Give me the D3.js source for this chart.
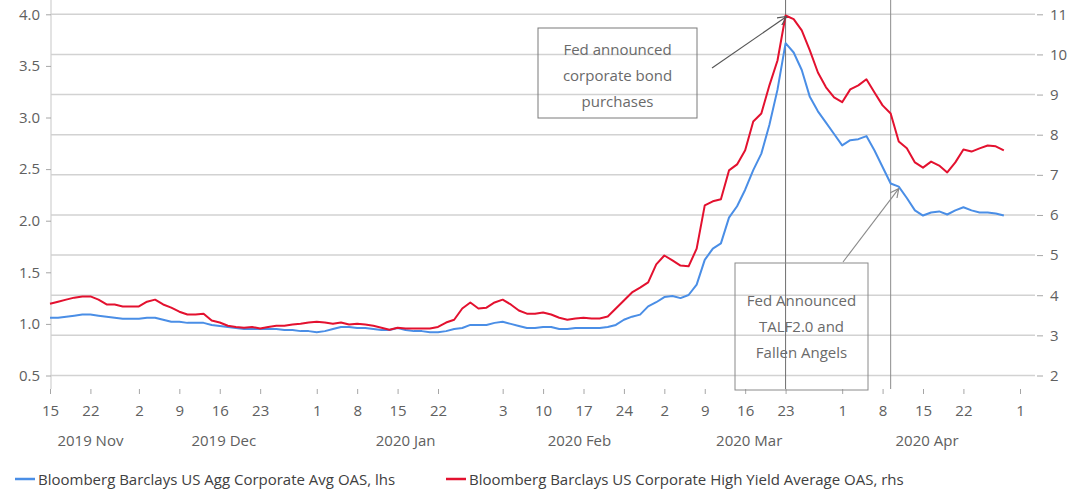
<!DOCTYPE html>
<html>
<head>
<meta charset="utf-8">
<script src="https://cdnjs.cloudflare.com/ajax/libs/d3/7.8.5/d3.min.js"></script>
<style>
  body { margin: 0; background: #fff; }
  svg { font-family: "Open Sans", sans-serif; }
</style>
</head>
<body>
<svg id="chart" width="1083" height="493"></svg>
<script>
// the x axis runs over weekdays only
var startDate = new Date(2019, 10, 15);
var endDate = new Date(2020, 4, 1);

// Bloomberg Barclays US Agg Corporate Avg OAS (lhs), one value per weekday from 2019-11-15
var igOAS = [1.06,1.06,1.07,1.08,1.09,1.09,1.08,1.07,1.06,1.05,
  1.05,1.05,1.06,1.06,1.04,1.02,1.02,1.01,1.01,1.01,
  0.99,0.98,0.97,0.96,0.95,0.95,0.95,0.95,0.95,0.94,
  0.94,0.93,0.93,0.92,0.93,0.95,0.97,0.97,0.96,0.96,
  0.95,0.94,0.94,0.96,0.94,0.93,0.93,0.92,0.92,0.93,
  0.95,0.96,0.99,0.99,0.99,1.01,1.02,1.00,0.98,0.96,
  0.96,0.97,0.97,0.95,0.95,0.96,0.96,0.96,0.96,0.97,
  0.99,1.04,1.07,1.09,1.17,1.21,1.26,1.27,1.25,1.28,
  1.38,1.62,1.73,1.78,2.03,2.14,2.30,2.49,2.65,2.93,
  3.27,3.72,3.63,3.46,3.20,3.06,2.95,2.84,2.73,2.78,
  2.79,2.82,2.68,2.52,2.36,2.33,2.22,2.10,2.05,2.08,
  2.09,2.06,2.10,2.13,2.10,2.08,2.08,2.07,2.05];

// Bloomberg Barclays US Corporate High Yield Average OAS (rhs)
var hyOAS = [3.79,3.84,3.89,3.94,3.97,3.97,3.89,3.77,3.77,3.72,
  3.72,3.72,3.84,3.89,3.77,3.69,3.59,3.52,3.52,3.54,
  3.37,3.32,3.24,3.21,3.19,3.21,3.17,3.21,3.24,3.24,
  3.27,3.29,3.32,3.34,3.32,3.29,3.32,3.27,3.29,3.27,
  3.24,3.19,3.14,3.19,3.17,3.17,3.17,3.17,3.21,3.32,
  3.39,3.67,3.82,3.67,3.69,3.82,3.89,3.77,3.62,3.54,
  3.54,3.57,3.52,3.44,3.39,3.42,3.44,3.42,3.42,3.47,
  3.67,3.87,4.07,4.19,4.32,4.77,4.99,4.87,4.74,4.72,
  5.16,6.24,6.34,6.39,7.11,7.26,7.61,8.33,8.53,9.23,
  9.85,10.97,10.88,10.6,10.1,9.55,9.18,8.93,8.81,9.13,
  9.23,9.38,9.05,8.73,8.53,7.83,7.66,7.31,7.18,7.33,
  7.23,7.06,7.31,7.63,7.58,7.66,7.73,7.71,7.61];

var tickDates = ["2019-11-15","2019-11-22","2019-12-02","2019-12-09","2019-12-16","2019-12-23",
  "2020-01-01","2020-01-08","2020-01-15","2020-01-22","2020-02-03","2020-02-10","2020-02-17",
  "2020-02-24","2020-03-02","2020-03-09","2020-03-16","2020-03-23","2020-04-01","2020-04-08",
  "2020-04-15","2020-04-22","2020-05-01"];
var monthLabels = ["2019 Nov","2019 Dec","2020 Jan","2020 Feb","2020 Mar","2020 Apr"];
var leftTicks = [0.5,1.0,1.5,2.0,2.5,3.0,3.5,4.0];
var rightTicks = [2,3,4,5,6,7,8,9,10,11];
var eventDates = ["2020-03-23","2020-04-09"];
var seriesNames = ["Bloomberg Barclays US Agg Corporate Avg OAS, lhs",
  "Bloomberg Barclays US Corporate High Yield Average OAS, rhs"];
var noteLines = [["Fed announced","corporate bond","purchases"],
  ["Fed Announced","TALF2.0 and","Fallen Angels"]];

var blue = "#4a8ee6", red = "#e3112f";
var svg = d3.select("#chart");
var parse = d3.timeParse("%Y-%m-%d");
var fmtDay = d3.timeFormat("%Y-%m-%d");

var days = d3.timeDay.range(startDate, d3.timeDay.offset(endDate, 1))
  .filter(function(d) { return d.getDay() !== 0 && d.getDay() !== 6; });
var dayKeys = days.map(fmtDay);

var x = d3.scalePoint().domain(dayKeys).range([50, 1020]);
var yL = d3.scaleLinear().domain([0.5, 4.0]).range([375.5, 14.3]);
var yR = d3.scaleLinear().domain([2, 11]).range([375.5, 14.3]);

var plotLeft = 51, plotRight = 1035, plotBottom = 389;

// gridlines follow the right axis
svg.append("g").selectAll("line")
  .data(rightTicks).enter().append("line")
  .attr("x1", plotLeft).attr("x2", plotRight)
  .attr("y1", function(d) { return yR(d); })
  .attr("y2", function(d) { return yR(d); })
  .attr("stroke", "#d2d2d2").attr("stroke-width", 1.5);

svg.append("line")
  .attr("x1", plotLeft).attr("x2", plotLeft).attr("y1", 0).attr("y2", plotBottom)
  .attr("stroke", "#d0d0d0").attr("stroke-width", 1.2);

// left axis
var gL = svg.append("g").attr("transform", "translate(" + plotLeft + ",0)")
  .call(d3.axisLeft(yL).tickValues(leftTicks).tickFormat(d3.format(".1f")).tickSize(5).tickPadding(6));
// right axis
var gR = svg.append("g").attr("transform", "translate(1037,0)")
  .call(d3.axisRight(yR).tickValues(rightTicks).tickSize(6).tickPadding(7));
// bottom axis
var gB = svg.append("g").attr("transform", "translate(0," + plotBottom + ")")
  .call(d3.axisBottom(x).tickValues(tickDates)
    .tickFormat(function(d) { return parse(d).getDate(); }).tickSize(5).tickPadding(11));

[gL, gR, gB].forEach(function(g) {
  g.select(".domain").remove();
  g.selectAll(".tick line").attr("stroke", "#a6a6a6");
  g.selectAll(".tick text").attr("fill", "#606060")
    .style("font-size", "15px").style("font-family", "'Open Sans', sans-serif");
});

// month labels centred on each month's weekdays
svg.append("g").selectAll("text")
  .data(monthLabels).enter().append("text")
  .attr("x", function(m) {
    var inMonth = days.filter(function(d) { return d3.timeFormat("%Y %b")(d) === m; });
    return (x(fmtDay(inMonth[0])) + x(fmtDay(inMonth[inMonth.length - 1]))) / 2;
  })
  .attr("y", 446)
  .attr("text-anchor", "middle")
  .attr("fill", "#606060")
  .style("font-size", "15px")
  .text(function(m) { return m; });

// event lines
svg.append("g").selectAll("line")
  .data(eventDates).enter().append("line")
  .attr("x1", function(d) { return x(d); }).attr("x2", function(d) { return x(d); })
  .attr("y1", 0).attr("y2", plotBottom)
  .attr("stroke", function(d, i) { return i === 0 ? "#6e6e6e" : "#8c8c8c"; })
  .attr("stroke-width", 1);

// series
var lineL = d3.line()
  .x(function(d, i) { return x(dayKeys[i]); })
  .y(function(d) { return yL(d); });
var lineR = d3.line()
  .x(function(d, i) { return x(dayKeys[i]); })
  .y(function(d) { return yR(d); });

svg.append("path").datum(igOAS)
  .attr("d", lineL).attr("fill", "none")
  .attr("stroke", blue).attr("stroke-width", 2).attr("stroke-linejoin", "round");
svg.append("path").datum(hyOAS)
  .attr("d", lineR).attr("fill", "none")
  .attr("stroke", red).attr("stroke-width", 2).attr("stroke-linejoin", "round");

// annotations
var defs = svg.append("defs");
["#555", "#8a8a8a"].forEach(function(c, i) {
  defs.append("marker")
    .attr("id", "arrow" + i)
    .attr("viewBox", "0 0 10 10").attr("refX", 10).attr("refY", 5)
    .attr("markerWidth", 9).attr("markerHeight", 9).attr("markerUnits", "userSpaceOnUse")
    .attr("orient", "auto")
    .append("path").attr("d", "M0,0 L10,5 L0,10")
    .attr("fill", "none").attr("stroke", c).attr("stroke-width", 1.3);
});

var peakIdx = hyOAS.indexOf(d3.max(hyOAS));
var talfIdx = dayKeys.indexOf("2020-04-10");
var notes = [
  { box: [538, 28, 159, 90], from: [712, 68],
    to: [x(dayKeys[peakIdx]) + 1, yR(hyOAS[peakIdx]) + 1], color: "#555", stroke: "#7a7a7a" },
  { box: [735, 263, 133, 127], from: [843, 262],
    to: [x(dayKeys[talfIdx]), yL(igOAS[talfIdx]) + 2], color: "#8a8a8a", stroke: "#8a8a8a" }
];

notes.forEach(function(n, i) {
  var g = svg.append("g");
  g.append("rect")
    .attr("x", n.box[0]).attr("y", n.box[1]).attr("width", n.box[2]).attr("height", n.box[3])
    .attr("fill", "none").attr("stroke", n.stroke).attr("stroke-width", 1);
  var cx = n.box[0] + n.box[2] / 2;
  var top = i === 0 ? n.box[1] + 27 : n.box[1] + 43;
  g.selectAll("text").data(noteLines[i]).enter().append("text")
    .attr("x", cx).attr("y", function(d, k) { return top + k * 26; })
    .attr("text-anchor", "middle").attr("fill", "#6a6a6a")
    .style("font-size", "15px")
    .text(function(d) { return d; });
  g.append("line")
    .attr("x1", n.from[0]).attr("y1", n.from[1]).attr("x2", n.to[0]).attr("y2", n.to[1])
    .attr("stroke", n.color).attr("stroke-width", 1.1)
    .attr("marker-end", "url(#arrow" + i + ")");
});

// legend
var legend = svg.append("g");
var legendItems = [{ x: 15, color: blue }, { x: 446, color: red }];
legendItems.forEach(function(item, i) {
  legend.append("line")
    .attr("x1", item.x).attr("x2", item.x + 20).attr("y1", 479).attr("y2", 479)
    .attr("stroke", item.color).attr("stroke-width", 2.5);
  legend.append("text")
    .attr("x", item.x + 23).attr("y", 484.5)
    .attr("fill", "#404040").style("font-size", "15px")
    .text(seriesNames[i]);
});
</script>
</body>
</html>
